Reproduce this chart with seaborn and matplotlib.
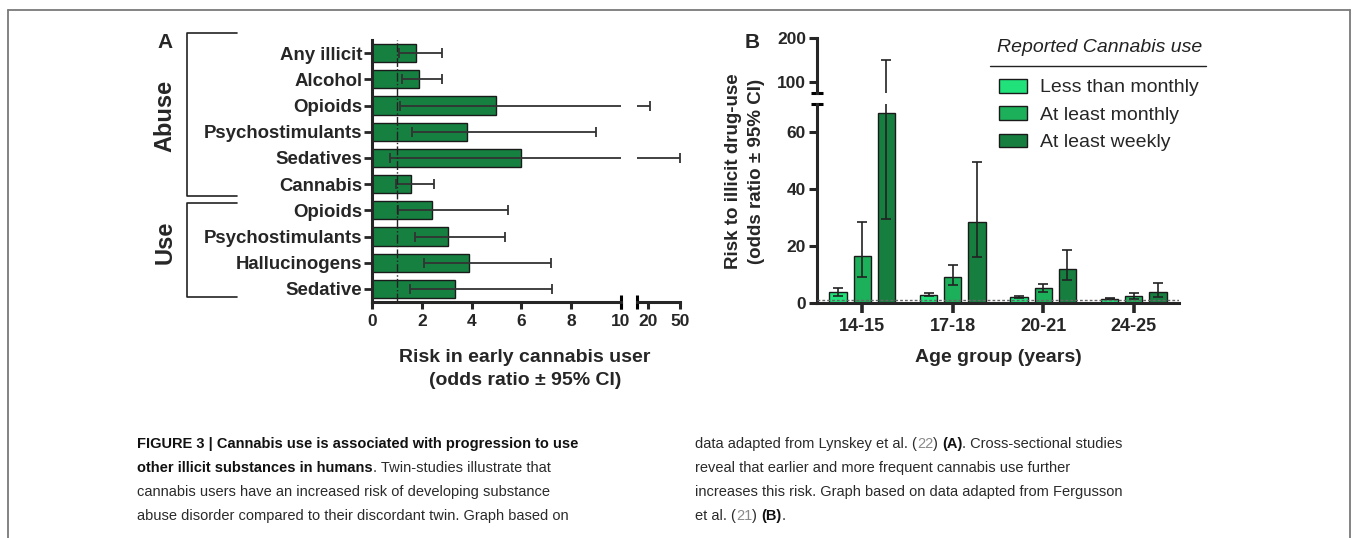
import matplotlib
matplotlib.use("Agg")
import pandas as pd
import seaborn as sns
import matplotlib.pyplot as plt
from matplotlib.lines import Line2D
from matplotlib.patches import Patch

# Panel A: risk in early cannabis user (odds ratio and 95% CI)
a_groups = ["Abuse"] * 6 + ["Use"] * 4
a_labels = ["Any illicit", "Alcohol", "Opioids", "Psychostimulants", "Sedatives",
            "Cannabis", "Opioids", "Psychostimulants", "Hallucinogens", "Sedative"]
a_or = [1.75, 1.87, 4.99, 3.80, 6.00, 1.57, 2.40, 3.06, 3.91, 3.34]
a_lo = [1.07, 1.20, 1.12, 1.60, 0.72, 0.95, 1.04, 1.73, 2.10, 1.51]
a_hi = [2.82, 2.82, 22.5, 8.99, 50.0, 2.51, 5.47, 5.33, 7.19, 7.22]

# Panel B: risk to illicit drug use by age group and cannabis use frequency
b_ages = ["14-15", "17-18", "20-21", "24-25"]
b_uses = ["Less than monthly", "At least monthly", "At least weekly"]
b_ltm = [3.9, 2.9, 2.1, 1.5]
b_ltm_lo = [2.5, 2.4, 1.9, 1.3]
b_ltm_hi = [5.3, 3.6, 2.5, 1.7]
b_alm = [16.4, 9.2, 5.3, 2.4]
b_alm_lo = [9.2, 6.2, 3.9, 1.5]
b_alm_hi = [28.6, 13.5, 6.8, 3.5]
b_alw = [67.0, 28.6, 12.1, 3.8]
b_alw_lo = [29.4, 16.2, 8.0, 2.1]
b_alw_hi = [150.0, 49.5, 18.5, 6.9]

W, H = 1356, 538
A_COLOR = "#168040"
B_COLORS = ["#21e27a", "#1db05a", "#167f40"]
EDGE = "#1a1a1a"

sns.set_style("ticks")
plt.rcParams["font.family"] = ["Liberation Sans", "DejaVu Sans"]
plt.rcParams["axes.linewidth"] = 2.2

fig = plt.figure(figsize=(W / 100, H / 100), dpi=100)


def box(x0, y0, x1, y1):
    # pixel box -> figure fraction [left, bottom, width, height]
    return [x0 / W, 1 - y1 / H, (x1 - x0) / W, (y1 - y0) / H]


# ---------------- panel A ----------------
ax_a1 = fig.add_axes(box(372, 40, 621, 302))
ax_a2 = fig.add_axes(box(637, 40, 680, 302))

df_a = pd.DataFrame({"key": [f"{g} {l}" for g, l in zip(a_groups, a_labels)], "or": a_or})
sns.barplot(data=df_a, x="or", y="key", orient="h", color=A_COLOR, saturation=1,
            edgecolor=EDGE, linewidth=1, width=0.7, errorbar=None, ax=ax_a1)
ys = [p.get_y() + p.get_height() / 2 for p in ax_a1.containers[0]]
xerr = [[o - l for o, l in zip(a_or, a_lo)], [h - o for o, h in zip(a_or, a_hi)]]
for ax in (ax_a1, ax_a2):
    ax.set_facecolor("none")
    ax.errorbar(a_or, ys, xerr=xerr, fmt="none", ecolor="#333333", elinewidth=1.3,
                capsize=3.5, capthick=1.3, zorder=4)
ax_a1.axvline(1, color="#222222", ls="-.", lw=1, zorder=5)

ax_a1.set_xlim(0, 10)
ax_a1.set_ylim(9.5, -0.5)
ax_a1.set_xticks([0, 2, 4, 6, 8, 10])
ax_a1.set_yticks(range(len(a_labels)))
ax_a1.set_yticklabels(a_labels)
ax_a1.set_xlabel("")
ax_a1.set_ylabel("")
sns.despine(ax=ax_a1)
ax_a1.tick_params(axis="y", length=6, width=2, pad=1, labelsize=13.4)
ax_a1.tick_params(axis="x", length=5, width=2.2, pad=4, labelsize=12.5)
for lab in ax_a1.get_xticklabels() + ax_a1.get_yticklabels():
    lab.set_fontweight("bold")
ax_a1.plot([1], [0], transform=ax_a1.transAxes, marker="|", ms=10, mew=2.2,
           color="k", clip_on=False)

ax_a2.set_xlim(10, 50.3)
ax_a2.set_ylim(9.5, -0.5)
ax_a2.set_xticks([20, 50])
ax_a2.set_yticks([])
for s in ("left", "top", "right"):
    ax_a2.spines[s].set_visible(False)
ax_a2.tick_params(axis="x", length=5, width=2.2, pad=4, labelsize=12.5)
for lab in ax_a2.get_xticklabels():
    lab.set_fontweight("bold")
ax_a2.plot([0], [0], transform=ax_a2.transAxes, marker="|", ms=10, mew=2.2,
           color="k", clip_on=False)

# group brackets
for ax_y0, ax_y1 in ((-0.77, 5.45), (5.72, 9.31)):
    tr = ax_a1.get_yaxis_transform()
    ax_a1.plot([-0.542, -0.743, -0.743, -0.542], [ax_y0, ax_y0, ax_y1, ax_y1],
               transform=tr, color="#222222", lw=1.2, clip_on=False)
fig.text(165 / W, 1 - 116 / H, "Abuse", rotation=90, ha="center", va="center",
         fontsize=17, fontweight="bold")
fig.text(165 / W, 1 - 242 / H, "Use", rotation=90, ha="center", va="center",
         fontsize=17, fontweight="bold")
fig.text(165 / W, 1 - 43 / H, "A", ha="center", va="center", fontsize=15, fontweight="bold")
fig.text(525 / W, 1 - 369 / H, "Risk in early cannabis user\n(odds ratio \u00b1 95% CI)",
         ha="center", va="center", fontsize=14, fontweight="bold", linespacing=1.4)

# ---------------- panel B ----------------
ax_b1 = fig.add_axes(box(817, 104, 1179, 303))
ax_b2 = fig.add_axes(box(817, 38, 1179, 92.7))

df_b = pd.DataFrame({
    "age": b_ages * 3,
    "use": [u for u in b_uses for _ in b_ages],
    "or": b_ltm + b_alm + b_alw,
})
lows = [b_ltm_lo, b_alm_lo, b_alw_lo]
highs = [b_ltm_hi, b_alm_hi, b_alw_hi]
vals = [b_ltm, b_alm, b_alw]
for ax in (ax_b1, ax_b2):
    ax.set_facecolor("none")
    sns.barplot(data=df_b, x="age", y="or", hue="use", hue_order=b_uses, palette=B_COLORS,
                saturation=1, edgecolor=EDGE, linewidth=1, width=0.8, gap=0.28,
                errorbar=None, legend=False, ax=ax)
    for cont, v, lo, hi in zip(ax.containers, vals, lows, highs):
        xs = [b.get_x() + b.get_width() / 2 for b in cont]
        ax.errorbar(xs, v, yerr=[[a - b for a, b in zip(v, lo)], [b - a for a, b in zip(v, hi)]],
                    fmt="none", ecolor="#222222", elinewidth=1.2, capsize=3.6, capthick=1.2,
                    zorder=4)
    ax.set_xlim(-0.5, 3.5)
    ax.set_xlabel("")
    ax.set_ylabel("")

ax_b1.axhline(1, color="#666666", ls=(0, (2, 1.5)), lw=1, zorder=5)
ax_b1.set_ylim(0, 70)
ax_b1.set_yticks([0, 20, 40, 60])
sns.despine(ax=ax_b1)
ax_b1.tick_params(axis="y", length=6, width=2.2, pad=2, labelsize=12.5)
ax_b1.tick_params(axis="x", length=7, width=2.6, pad=4, labelsize=13)
for lab in ax_b1.get_xticklabels() + ax_b1.get_yticklabels():
    lab.set_fontweight("bold")
ax_b1.plot([0], [1], transform=ax_b1.transAxes, marker="_", ms=9, mew=2.2,
           color="k", clip_on=False)

ax_b2.set_ylim(75, 200)
ax_b2.set_yticks([100, 200])
ax_b2.set_xticks([])
for s in ("bottom", "top", "right"):
    ax_b2.spines[s].set_visible(False)
ax_b2.tick_params(axis="y", length=6, width=2.2, pad=2, labelsize=12.5)
for lab in ax_b2.get_yticklabels():
    lab.set_fontweight("bold")
ax_b2.plot([0], [0], transform=ax_b2.transAxes, marker="_", ms=9, mew=2.2,
           color="k", clip_on=False)

handles = [Patch(facecolor=c, edgecolor=EDGE, linewidth=1) for c in B_COLORS]
leg = fig.legend(handles, b_uses, frameon=False,
                 loc="upper left", bbox_to_anchor=(989 / W, 1 - 69 / H),
                 fontsize=14, handlelength=1.45, handleheight=0.72, handletextpad=0.65,
                 labelspacing=0.5, borderpad=0)
fig.text(997 / W, 1 - 48 / H, "Reported Cannabis use", ha="left", va="center",
         fontsize=14, fontstyle="italic", color="#222222")
fig.add_artist(Line2D([990 / W, 1206 / W], [1 - 66 / H] * 2, color="#222222", lw=1))

fig.text(752 / W, 1 - 43 / H, "B", ha="center", va="center", fontsize=15, fontweight="bold")
fig.text(745 / W, 1 - 171 / H, "Risk to illicit drug-use\n(odds ratio \u00b1 95% CI)",
         rotation=90, ha="center", va="center", fontsize=13.5, fontweight="bold",
         linespacing=1.5)
fig.text(998 / W, 1 - 357 / H, "Age group (years)", ha="center", va="center",
         fontsize=14, fontweight="bold")

# ---------------- frame and caption ----------------
frame = dict(color="#7a7a7a", lw=1.3)
fig.add_artist(Line2D([8 / W, 8 / W], [0, 1 - 10 / H], **frame))
fig.add_artist(Line2D([8 / W, 1350 / W], [1 - 10 / H] * 2, **frame))
fig.add_artist(Line2D([1350 / W, 1350 / W], [0, 1 - 10 / H], **frame))

CAP_SIZE = 10.5
styles = {
    "b": dict(fontweight="bold", color="#111111"),
    "r": dict(color="#2a2a2a"),
    "g": dict(color="#8a8a8a"),
}
renderer = fig.canvas.get_renderer()
probe1 = fig.text(0, 0, "x x", fontsize=CAP_SIZE)
probe2 = fig.text(0, 0, "xx", fontsize=CAP_SIZE)
space_w = probe1.get_window_extent(renderer).width - probe2.get_window_extent(renderer).width
probe1.remove()
probe2.remove()


def rich_line(x, y, pieces):
    for txt, kind in pieces:
        if txt == " ":
            x += space_w
            continue
        t = fig.text(x / W, 1 - y / H, txt, fontsize=CAP_SIZE, ha="left", va="center",
                     **styles[kind])
        x += t.get_window_extent(renderer).width


left_lines = [
    [("FIGURE 3 | Cannabis use is associated with progression to use", "b")],
    [("other illicit substances in humans", "b"), (". Twin-studies illustrate that", "r")],
    [("cannabis users have an increased risk of developing substance", "r")],
    [("abuse disorder compared to their discordant twin. Graph based on", "r")],
]
right_lines = [
    [("data adapted from Lynskey et al. (", "r"), ("22", "g"), (")", "r"), (" ", ""),
     ("(A)", "b"), (". Cross-sectional studies", "r")],
    [("reveal that earlier and more frequent cannabis use further", "r")],
    [("increases this risk. Graph based on data adapted from Fergusson", "r")],
    [("et al. (", "r"), ("21", "g"), (")", "r"), (" ", ""), ("(B)", "b"), (".", "r")],
]
for i, pieces in enumerate(left_lines):
    rich_line(137, 444 + 24 * i, pieces)
for i, pieces in enumerate(right_lines):
    rich_line(695, 444 + 24 * i, pieces)

fig.savefig("out.png", dpi=100)
